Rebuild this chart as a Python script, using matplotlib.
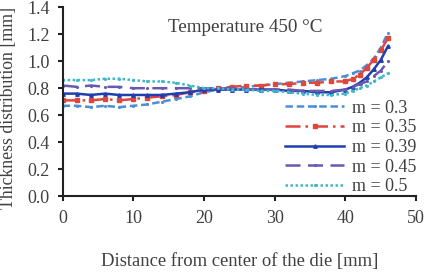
import matplotlib
matplotlib.use("Agg")
import matplotlib.pyplot as plt

plt.rcParams['font.family'] = ['Liberation Serif', 'DejaVu Serif']

distance = [0, 2, 4, 6, 8, 10, 12, 14, 16, 18, 20, 22, 24, 26, 28, 30, 32, 34,
            36, 38, 40, 41, 42, 43, 44, 45, 46]
m_030 = [0.67, 0.67, 0.66, 0.67, 0.66, 0.67, 0.68, 0.70, 0.72, 0.74, 0.77, 0.79, 0.80, 0.81,
         0.82, 0.83, 0.84, 0.85, 0.86, 0.87, 0.89, 0.91, 0.93, 0.97, 1.02, 1.10, 1.21]
m_035 = [0.71, 0.71, 0.71, 0.72, 0.71, 0.72, 0.73, 0.74, 0.75, 0.77, 0.78, 0.80, 0.81, 0.82,
         0.82, 0.83, 0.83, 0.84, 0.84, 0.85, 0.85, 0.87, 0.90, 0.95, 1.01, 1.08, 1.17]
m_039 = [0.76, 0.76, 0.75, 0.76, 0.75, 0.75, 0.75, 0.75, 0.76, 0.77, 0.79, 0.79, 0.79, 0.79,
         0.79, 0.79, 0.78, 0.78, 0.77, 0.77, 0.79, 0.81, 0.84, 0.88, 0.94, 1.01, 1.11]
m_045 = [0.82, 0.81, 0.82, 0.81, 0.81, 0.80, 0.80, 0.80, 0.80, 0.80, 0.80, 0.80, 0.80, 0.79,
         0.79, 0.79, 0.79, 0.78, 0.78, 0.78, 0.79, 0.81, 0.83, 0.85, 0.89, 0.93, 1.00]
m_050 = [0.86, 0.86, 0.86, 0.87, 0.87, 0.86, 0.85, 0.85, 0.84, 0.82, 0.80, 0.80, 0.79, 0.79,
         0.78, 0.78, 0.77, 0.76, 0.75, 0.75, 0.76, 0.78, 0.80, 0.82, 0.85, 0.88, 0.91]

labels = ["m = 0.3", "m = 0.35", "m = 0.39", "m = 0.45", "m = 0.5"]
series = [m_030, m_035, m_039, m_045, m_050]
colors = ["#4a8fd4", "#e0463c", "#1f3fb0", "#6a58b0", "#3cb8cc"]
styles = [(0, (3, 1.5)), (0, (6, 2, 1, 2)), "-", (0, (6, 3)), (0, (1, 1))]
markers = [".", "s", "^", ".", "."]

fig = plt.figure(figsize=(4.26, 2.72), dpi=100)
ax = fig.add_axes([0.147, 0.278, 0.83, 0.696])

for y, lab, c, ls, mk in zip(series, labels, colors, styles, markers):
    ax.plot(distance, y, color=c, linestyle=ls, linewidth=1.8, marker=mk,
            markersize=2.5, label=lab)

ax.set_xlim(0, 50)
ax.set_ylim(0, 1.4)
ax.set_xticks([0, 10, 20, 30, 40, 50])
ax.set_yticks([0.0, 0.2, 0.4, 0.6, 0.8, 1.0, 1.2, 1.4])
ax.set_yticklabels(["0.0", "0.2", "0.4", "0.6", "0.8", "1.0", "1.2", "1.4"])
for s in ["top", "right"]:
    ax.spines[s].set_visible(False)
for s in ["left", "bottom"]:
    ax.spines[s].set_linewidth(1.5)
    ax.spines[s].set_color("#222222")
ax.tick_params(direction="out", length=3.5, width=1.5, colors="#222222",
               labelsize=13, labelcolor="#404040", pad=6)

ax.set_xlabel("Distance from center of the die [mm]", fontsize=13.4,
              color="#404040", labelpad=19)
ax.set_ylabel("Thickness distribution [mm]", fontsize=12.8, color="#404040")
ax.yaxis.set_label_coords(-0.128, 0.465)

ax.text(25.8, 1.25, "Temperature 450 °C", fontsize=13.8, color="#404040",
        ha="center", va="center")

leg = ax.legend(loc="lower right", bbox_to_anchor=(1.03, -0.052), frameon=False,
                fontsize=13, handlelength=3.3, labelspacing=0.15,
                handletextpad=0.4, borderaxespad=0.2)
for t in leg.get_texts():
    t.set_color("#404040")

fig.savefig("out.png", dpi=100)
